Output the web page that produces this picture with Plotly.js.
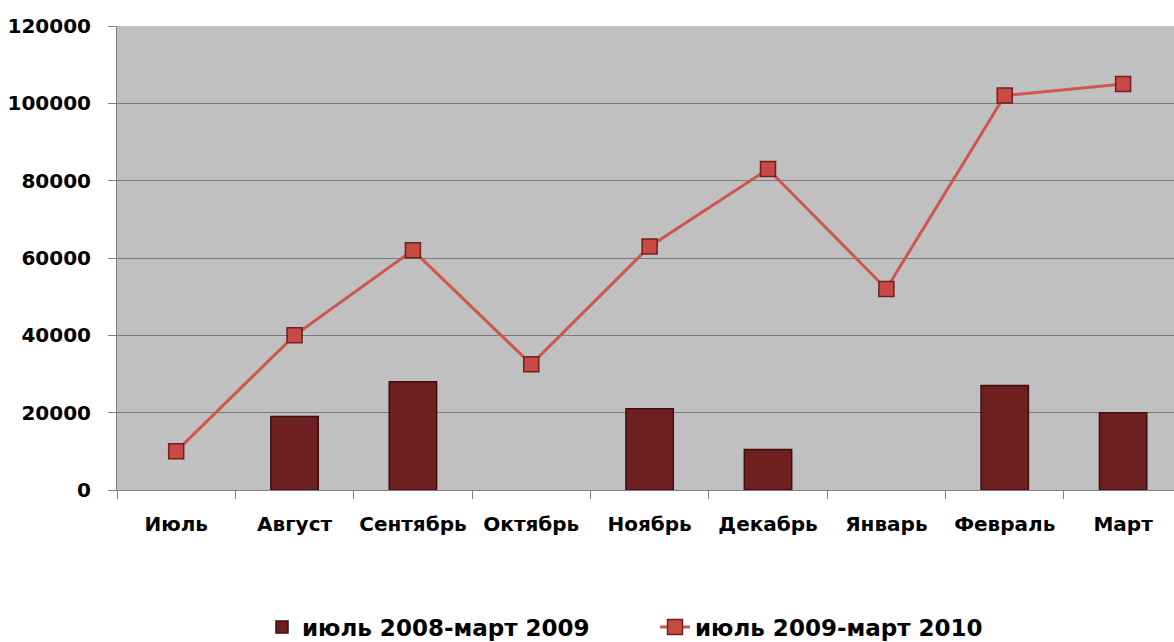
<!DOCTYPE html>
<html>
<head>
<meta charset="utf-8">
<script src="https://cdn.plot.ly/plotly-3.0.1.min.js"></script>
<style>html,body{margin:0;padding:0;background:#fff;}#chart{width:1174px;height:642px;}</style>
</head>
<body>
<div id="chart"></div>
<script>
const months = ["Июль","Август","Сентябрь","Октябрь","Ноябрь","Декабрь","Январь","Февраль","Март"];
const series2008 = [null, 19000, 28000, null, 21000, 10500, null, 27000, 20000];
const series2009 = [10000, 40000, 62000, 32500, 63000, 83000, 52000, 102000, 105000];
const yTicks = [0, 20000, 40000, 60000, 80000, 100000, 120000];
const name2008 = "июль 2008-март 2009";
const name2009 = "июль 2009-март 2010";

const fontFam = "DejaVu Sans, Arial, sans-serif";
const legendFont = {family: fontFam, size: 23, color: "#000", weight: "bold"};

const traces = [
  {
    type: "bar",
    name: name2008,
    x: months,
    y: series2008,
    width: 0.4,
    marker: {color: "#6e2020", line: {color: "#3c0e0e", width: 1.5}},
    legend: "legend",
    hoverinfo: "x+y"
  },
  {
    type: "scatter",
    mode: "lines+markers",
    name: name2009,
    x: months,
    y: series2009,
    line: {color: "#cd5650", width: 3},
    marker: {symbol: "square", size: 15, color: "#c94a44", line: {color: "#6e2020", width: 1.5}},
    legend: "legend2",
    cliponaxis: false
  }
];

const layout = {
  width: 1174,
  height: 642,
  margin: {l: 117, r: 0, t: 26, b: 152},
  paper_bgcolor: "#ffffff",
  plot_bgcolor: "#c0c0c0",
  showlegend: true,
  xaxis: {
    type: "category",
    range: [-0.5, 8.43],
    tickson: "boundaries",
    ticks: "outside",
    ticklen: 8,
    tickcolor: "#808080",
    showline: true,
    linecolor: "#808080",
    linewidth: 1,
    showgrid: false,
    tickfont: {family: fontFam, size: 20, color: "#000", weight: "bold"},
    ticklabelstandoff: 16,
    fixedrange: true
  },
  yaxis: {
    range: [0, 120000],
    tickvals: yTicks,
    ticktext: yTicks.map(String),
    ticks: "outside",
    ticklen: 8,
    tickcolor: "#808080",
    showline: true,
    linecolor: "#808080",
    showgrid: true,
    gridcolor: "#7a7a7a",
    gridwidth: 1,
    zeroline: false,
    tickfont: {family: fontFam, size: 20, color: "#000", weight: "bold"},
    ticklabelstandoff: 13,
    fixedrange: true
  },
  legend: {
    orientation: "h",
    xref: "container",
    yref: "container",
    x: 262 / 1174,
    xanchor: "left",
    y: (642 - 627) / 642,
    yanchor: "middle",
    font: legendFont,
    bgcolor: "rgba(0,0,0,0)"
  },
  legend2: {
    orientation: "h",
    xref: "container",
    yref: "container",
    x: 655 / 1174,
    xanchor: "left",
    y: (642 - 627) / 642,
    yanchor: "middle",
    font: legendFont,
    bgcolor: "rgba(0,0,0,0)"
  }
};

Plotly.newPlot("chart", traces, layout, {displayModeBar: false});
</script>
</body>
</html>
